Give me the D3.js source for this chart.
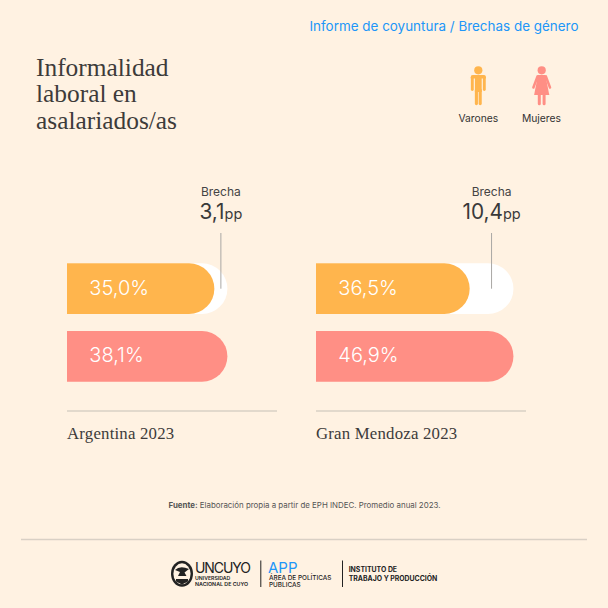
<!DOCTYPE html>
<html lang="es">
<head>
<meta charset="UTF-8">
<title>Informalidad laboral en asalariados/as</title>
<script src="https://d3js.org/d3.v7.min.js"></script>
<style>
    html, body { margin: 0; padding: 0; background: #fff2e2; }
    svg { display: block; }
    text { font-family: Inter, "Noto Sans", sans-serif; }
    .title { font-family: "Liberation Serif", serif; font-size: 25.4px; fill: #3d3b3a; }
    .region { font-family: "Liberation Serif", serif; font-size: 16.8px; fill: #3d3b3a; letter-spacing: 0.2px; }
    .value { font-size: 20px; font-weight: 300; fill: #fff; }
    .rule { stroke: #d9d0c5; stroke-width: 1.5; }
</style>
</head>
<body>
<svg id="chart" width="608" height="608"></svg>
<script>
// Data
const regions = ["Argentina 2023", "Gran Mendoza 2023"];
const varones = [35.0, 36.5];
const mujeres = [38.1, 46.9];
const brechas = [3.1, 10.4];
const series = ["Varones", "Mujeres"];
const titleLines = ["Informalidad", "laboral en", "asalariados/as"];

const colors = { Varones: "#ffb54d", Mujeres: "#ff8f85" };
const fmt = v => v.toFixed(1).replace(".", ",");

const svg = d3.select("#chart");

// One panel per region, both share the scales
const panelX = d3.scaleOrdinal().domain(regions).range([67, 316]);
const x = d3.scaleLinear().domain([0, 50]).range([0, 210.5]);
const y = d3.scaleBand().domain(series).range([263.3, 381.7]).paddingInner(0.25);
const h = y.bandwidth();

// Bar with a square left end and a fully rounded right end
function pill(w) {
    const r = h / 2, p = d3.path();
    p.moveTo(0, 0);
    p.lineTo(w - r, 0);
    p.arc(w - r, r, r, -Math.PI / 2, Math.PI / 2);
    p.lineTo(0, h);
    p.closePath();
    return p.toString();
}

// Header
svg.append("text").attr("x", 578.5).attr("y", 31).attr("text-anchor", "end")
    .attr("font-size", 13.45).attr("fill", "#2196f8")
    .text("Informe de coyuntura / Brechas de género");

svg.selectAll(".title").data(titleLines).enter().append("text")
    .attr("class", "title").attr("x", 36).attr("y", (d, i) => 75.5 + i * 26.5)
    .text(d => d);

// Legend icons
const limb = (g, color, w, x1, y1, x2, y2) => g.append("line")
    .attr("x1", x1).attr("y1", y1).attr("x2", x2).attr("y2", y2)
    .attr("stroke", color).attr("stroke-width", w).attr("stroke-linecap", "round");

const man = svg.append("g").attr("fill", colors.Varones);
man.append("circle").attr("cx", 478.3).attr("cy", 70.3).attr("r", 4.1);
man.append("path").attr("d", "M473 75H483.6Q485.8 75 485.8 77.2V78.5H470.8V77.2Q470.8 75 473 75Z");
man.append("rect").attr("x", 474.9).attr("y", 75).attr("width", 6.8).attr("height", 17);
limb(man, colors.Varones, 2.9, 472.3, 77, 472.3, 89.5);
limb(man, colors.Varones, 2.9, 484.3, 77, 484.3, 89.5);
limb(man, colors.Varones, 3.1, 476.4, 90, 476.4, 103.6);
limb(man, colors.Varones, 3.1, 480.2, 90, 480.2, 103.6);

const woman = svg.append("g").attr("fill", colors.Mujeres);
woman.append("circle").attr("cx", 541.7).attr("cy", 70.3).attr("r", 4.1);
woman.append("path").attr("d", "M538 75H545.4L549.3 95H534.1Z");
limb(woman, colors.Mujeres, 2.5, 537.6, 76.3, 533.4, 87.5);
limb(woman, colors.Mujeres, 2.5, 545.8, 76.3, 550, 87.5);
limb(woman, colors.Mujeres, 3, 539.3, 95, 539.3, 103.7);
limb(woman, colors.Mujeres, 3, 544.1, 95, 544.1, 103.7);

svg.selectAll(".legend").data(series).enter().append("text")
    .attr("x", (d, i) => [478.3, 541.5][i]).attr("y", 122).attr("text-anchor", "middle")
    .attr("font-size", 10.3).attr("fill", "#333").text(d => d);

// Panels
regions.forEach((region, i) => {
    const g = svg.append("g").attr("transform", `translate(${panelX(region)},0)`);

    // White track shows the gap up to the women's value
    g.append("path").attr("transform", `translate(0,${y("Varones")})`)
        .attr("d", pill(x(mujeres[i]))).attr("fill", "#fff");

    const rows = [["Varones", varones[i]], ["Mujeres", mujeres[i]]];
    rows.forEach(([name, v]) => {
        g.append("path").attr("transform", `translate(0,${y(name)})`)
            .attr("d", pill(x(v))).attr("fill", colors[name]);
        g.append("text").attr("class", "value").attr("x", 22.3)
            .attr("y", y(name) + h / 2 + 6).text(fmt(v) + "%");
    });

    // Gap marker sits halfway between both values
    const gx = x((varones[i] + mujeres[i]) / 2);
    g.append("line").attr("x1", gx).attr("x2", gx).attr("y1", 233).attr("y2", 288.7)
        .attr("stroke", "#a9a7a4").attr("stroke-width", 1);

    g.append("text").attr("x", gx).attr("y", 196).attr("text-anchor", "middle")
        .attr("font-size", 12).attr("fill", "#444").text("Brecha");
    const label = g.append("text").attr("x", gx).attr("y", 219).attr("text-anchor", "middle")
        .attr("fill", "#3a3a3a");
    label.append("tspan").attr("font-size", 20.8).text(fmt(brechas[i]));
    label.append("tspan").attr("font-size", 14.5).text("pp");

    g.append("line").attr("class", "rule").attr("x1", 0).attr("x2", 210).attr("y1", 411).attr("y2", 411);
    g.append("text").attr("class", "region").attr("x", 0).attr("y", 439).text(region);
});

// Source note
const note = svg.append("text").attr("x", 304.5).attr("y", 508).attr("text-anchor", "middle")
    .attr("font-size", 7.9).attr("fill", "#555");
note.append("tspan").attr("font-weight", 700).text("Fuente:");
note.append("tspan").text(" Elaboración propia a partir de EPH INDEC. Promedio anual 2023.");

svg.append("line").attr("class", "rule").attr("x1", 21).attr("x2", 587).attr("y1", 539.5).attr("y2", 539.5);

// Logos
const logo = svg.append("g").attr("fill", "#222");
logo.append("ellipse").attr("cx", 182).attr("cy", 573.8).attr("rx", 11).attr("ry", 13);
logo.append("ellipse").attr("cx", 182).attr("cy", 573.8).attr("rx", 8.6).attr("ry", 10.5).attr("fill", "#fff2e2");
logo.append("path").attr("d", "M175 570Q180 565 189 569L184.5 572.5L186.5 576H178L180 572Z");
logo.append("path").attr("d", "M176 579H188V581.5L182 584.5L176 581.5Z");
logo.append("text").attr("x", 195).attr("y", 573).attr("font-size", 14).attr("letter-spacing", -1.1).text("UNCUYO");
logo.append("text").attr("x", 195).attr("y", 579.6).attr("font-size", 5.2).attr("font-weight", 600).text("UNIVERSIDAD");
logo.append("text").attr("x", 195).attr("y", 586).attr("font-size", 5.3).attr("font-weight", 600).text("NACIONAL DE CUYO");
logo.append("rect").attr("x", 260.3).attr("y", 560.5).attr("width", 1).attr("height", 26.5);
logo.append("text").attr("x", 268).attr("y", 572.5).attr("font-size", 15).attr("fill", "#2196f8").text("APP");
logo.append("text").attr("x", 269).attr("y", 579.5).attr("font-size", 6.4).attr("font-weight", 500).text("ÁREA DE POLÍTICAS");
logo.append("text").attr("x", 269).attr("y", 586.7).attr("font-size", 6.4).attr("font-weight", 500).text("PÚBLICAS");
logo.append("rect").attr("x", 342).attr("y", 560.5).attr("width", 1).attr("height", 26.5);
logo.append("text").attr("x", 348.7).attr("y", 572).attr("font-size", 6.9).attr("font-weight", 700).text("INSTITUTO DE");
logo.append("text").attr("x", 348.7).attr("y", 580.7).attr("font-size", 6.9).attr("font-weight", 700).text("TRABAJO Y PRODUCCIÓN");
</script>
</body>
</html>
